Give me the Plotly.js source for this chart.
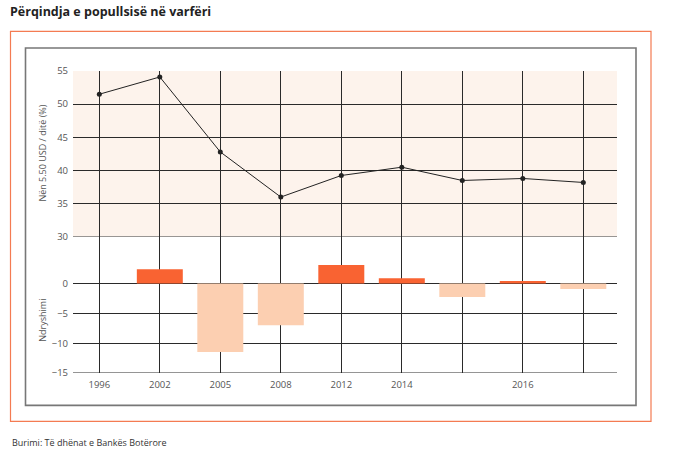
<!DOCTYPE html>
<html>
<head>
<meta charset="utf-8">
<script src="https://cdn.plot.ly/plotly-3.0.1.min.js"></script>
<style>
  html, body { margin: 0; padding: 0; background: #fff; }
  #chart { width: 680px; height: 452px; }
</style>
</head>
<body>
<div id="chart"></div>
<script>
// Category positions and labels
const categories = [0, 1, 2, 3, 4, 5, 6, 7, 8];
const tickLabels = ['1996', '2002', '2005', '2008', '2012', '2014', '', '2016', ''];

// Poverty rate (% below 5.50 USD / day)
const povertyRate = [51.5, 54.1, 42.8, 36.0, 39.25, 40.5, 38.5, 38.8, 38.2];

// Change between consecutive points
const changeCats = [1, 2, 3, 4, 5, 6, 7, 8];
const changeValues = [2.4, -11.5, -7.0, 3.1, 0.9, -2.25, 0.4, -0.9];

const posColor = '#F96332';
const negColor = '#FCCFB1';
const barColors = changeValues.map(v => v >= 0 ? posColor : negColor);

const traces = [
  {
    type: 'scatter', mode: 'lines+markers',
    x: categories, y: povertyRate,
    xaxis: 'x', yaxis: 'y',
    line: { color: '#222', width: 1 },
    marker: { color: '#222', size: 5 },
    hoverinfo: 'y', cliponaxis: false
  },
  {
    type: 'bar',
    x: changeCats, y: changeValues,
    xaxis: 'x', yaxis: 'y2',
    width: 0.76,
    marker: { color: barColors, line: { width: 0 } },
    hoverinfo: 'y'
  }
];

const font = { family: '"Open Sans", "Noto Sans", sans-serif', size: 9.5, color: '#555' };

// helpers: pixel -> paper
const L = 73, R = 63, T = 71, B = 79.3, W = 680, H = 452;
const pw = W - L - R, ph = H - T - B;
const px = v => (v - L) / pw;
const py = v => (H - B - v) / ph;
const split = (372.7 - 236.7) / ph;

const layout = {
  width: W, height: H,
  margin: { l: L, r: R, t: T, b: B, pad: 0 },
  paper_bgcolor: '#fff', plot_bgcolor: 'rgba(0,0,0,0)',
  showlegend: false,
  font: font,
  title: {
    text: '<b>Përqindja e popullsisë në varfëri</b>',
    xref: 'container', yref: 'container',
    x: 10 / W, y: 1 - 12 / H, xanchor: 'left', yanchor: 'middle',
    font: { family: '"Open Sans", "Noto Sans", sans-serif', size: 12.5, color: '#222' }
  },
  xaxis: {
    range: [-0.435, 8.557],
    tickmode: 'array', tickvals: categories, ticktext: tickLabels,
    showgrid: true, gridcolor: '#2a2a2a', gridwidth: 1,
    zeroline: false, showline: false, ticks: '',
    anchor: 'y2', ticklabelstandoff: 4,
    tickfont: { size: 9.5, color: '#555' }
  },
  yaxis: {
    domain: [split, 1], range: [30, 55],
    tickvals: [30, 35, 40, 45, 50, 55],
    showgrid: true, gridcolor: '#2a2a2a', gridwidth: 1,
    zeroline: false, showline: false, ticks: '',
    ticklabelstandoff: 4,
    tickfont: { size: 9.5, color: '#555' }
  },
  yaxis2: {
    domain: [0, split], range: [-15, 7.82],
    tickvals: [-15, -10, -5, 0],
    showgrid: true, gridcolor: '#2a2a2a', gridwidth: 1,
    zeroline: true, zerolinecolor: '#2a2a2a', zerolinewidth: 1,
    showline: false, ticks: '', anchor: 'x',
    ticklabelstandoff: 4,
    tickfont: { size: 9.5, color: '#555' }
  },
  shapes: [
    { type: 'rect', xref: 'paper', yref: 'y', x0: 0, x1: 1, y0: 30, y1: 55,
      fillcolor: '#FDF3EC', line: { width: 0 }, layer: 'below' },
    { type: 'line', xref: 'paper', yref: 'y', x0: 0, x1: 1, y0: 30, y1: 30,
      line: { color: '#2a2a2a', width: 1 }, layer: 'below' },
    { type: 'line', xref: 'paper', yref: 'y2', x0: 0, x1: 1, y0: -15, y1: -15,
      line: { color: '#2a2a2a', width: 1 }, layer: 'below' },
    { type: 'rect', xref: 'paper', yref: 'paper',
      x0: px(25.5), x1: px(636), y0: py(405), y1: py(48),
      line: { color: '#777', width: 1.6 }, fillcolor: 'rgba(0,0,0,0)', layer: 'below' },
    { type: 'rect', xref: 'paper', yref: 'paper',
      x0: px(10.5), x1: px(651), y0: py(421), y1: py(31.5),
      line: { color: '#F47B52', width: 1.2 }, fillcolor: 'rgba(0,0,0,0)', layer: 'below' }
  ],
  annotations: [
    { text: 'Nën 5.50 USD / ditë (%)', xref: 'paper', yref: 'paper',
      x: px(42.5), y: py(153), textangle: -90, showarrow: false,
      xanchor: 'center', yanchor: 'middle',
      font: { size: 9, color: '#555' } },
    { text: 'Ndryshimi', xref: 'paper', yref: 'paper',
      x: px(42.5), y: py(320), textangle: -90, showarrow: false,
      xanchor: 'center', yanchor: 'middle',
      font: { size: 9, color: '#555' } },
    { text: 'Burimi: Të dhënat e Bankës Botërore', xref: 'paper', yref: 'paper',
      x: px(10), y: py(442), showarrow: false,
      xanchor: 'left', yanchor: 'middle',
      font: { size: 9, color: '#333' } }
  ]
};

Plotly.newPlot('chart', traces, layout, { displayModeBar: false, staticPlot: true });
</script>
</body>
</html>
